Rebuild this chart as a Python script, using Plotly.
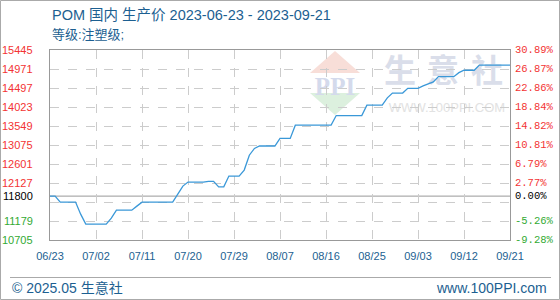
import pandas as pd
import plotly.graph_objects as go

# ---- data ----
start_date = "2023-06-23"
prices = [
    11800, 11800, 11650, 11650, 11650, 11650, 11350, 11100, 11100, 11100,
    11100, 11100, 11250, 11450, 11450, 11450, 11450, 11550, 11650, 11650,
    11650, 11650, 11650, 11650, 11650, 11850, 12050, 12150, 12150, 12150,
    12150, 12170, 12170, 12030, 12030, 12300, 12300, 12300, 12450, 12820,
    12990, 13050, 13050, 13050, 13050, 13240, 13240, 13240, 13570, 13570,
    13570, 13570, 13570, 13570, 13570, 13570, 13810, 13810, 13810, 13810,
    13810, 13810, 14070, 14070, 14070, 14070, 14250, 14370, 14370, 14370,
    14490, 14490, 14490, 14550, 14610, 14650, 14780, 14780, 14780, 14780,
    14880, 14940, 14940, 14940, 15070, 15070, 15070, 15070, 15070, 15070,
    15070,
]
base_price = 11800
y_ticks = [10705, 11179, 11653, 12127, 12601, 13075, 13549, 14023, 14497, 14971, 15445]
left_labels = ["10705", "11179", None, "12127", "12601", "13075", "13549", "14023", "14497", "14971", "15445"]
right_labels = ["-9.28%", "-5.26%", None, "2.77%", "6.79%", "10.81%", "14.82%", "18.84%", "22.86%", "26.87%", "30.89%"]
x_tick_dates = ["2023-06-23", "2023-07-02", "2023-07-11", "2023-07-20", "2023-07-29",
                "2023-08-07", "2023-08-16", "2023-08-25", "2023-09-03", "2023-09-12", "2023-09-21"]
x_tick_text = ["06/23", "07/02", "07/11", "07/20", "07/29", "08/07", "08/16", "08/25", "09/03", "09/12", "09/21"]

dates = pd.date_range(start_date, periods=len(prices), freq="D")

RED = "#f33333"
GREEN = "#33aa33"
BLUE_TXT = "#1c5f91"
GRID = "#cccccc"
AXIS = "#999999"

fig = go.Figure()
fig.add_trace(go.Scatter(x=dates, y=prices, mode="lines",
                         line=dict(color="#3a98d8", width=1.3), hoverinfo="skip"))

annotations = []
for v, ll, rl in zip(y_ticks, left_labels, right_labels):
    if ll is None:
        continue
    col = RED if v > base_price else GREEN
    annotations.append(dict(x=0, y=v, xref="paper", yref="y", text=ll, showarrow=False,
                            xanchor="right", yanchor="middle", xshift=-15,
                            font=dict(family="Liberation Sans", size=11, color=col)))
    annotations.append(dict(x=1, y=v, xref="paper", yref="y", text=rl, showarrow=False,
                            xanchor="left", yanchor="middle", xshift=3,
                            font=dict(family="Liberation Mono", size=10.5, color=col)))
annotations.append(dict(x=0, y=base_price, xref="paper", yref="y", text=str(base_price), showarrow=False,
                        xanchor="right", yanchor="middle", xshift=-15,
                        font=dict(family="Liberation Sans", size=11, color="#000000")))
annotations.append(dict(x=1, y=base_price, xref="paper", yref="y", text="0.00%", showarrow=False,
                        xanchor="left", yanchor="middle", xshift=3,
                        font=dict(family="Liberation Mono", size=10.5, color="#000000")))

# titles & footer
annotations += [
    dict(x=0, y=1, xref="paper", yref="paper", xanchor="left", yanchor="middle", yshift=35,
         text="POM 国内 生产价 2023-06-23 - 2023-09-21", showarrow=False,
         font=dict(family="Liberation Sans, Noto Sans CJK SC", size=14.5, color=BLUE_TXT)),
    dict(x=0, y=1, xref="paper", yref="paper", xanchor="left", yanchor="middle", yshift=16,
         text="等级:注塑级;", showarrow=False,
         font=dict(family="Liberation Sans, Noto Sans CJK SC", size=13, color=BLUE_TXT)),
    dict(x=0, y=0, xref="paper", yref="paper", xanchor="left", yanchor="middle", yshift=-48, xshift=-40,
         text="© 2025.05 生意社", showarrow=False,
         font=dict(family="Liberation Sans, Noto Sans CJK SC", size=14, color=BLUE_TXT)),
    dict(x=1, y=0, xref="paper", yref="paper", xanchor="right", yanchor="middle", yshift=-48, xshift=39,
         text="www.100PPI.com", showarrow=False,
         font=dict(family="Liberation Sans", size=14, color=BLUE_TXT)),
]

W, H, L, T, PW, PH = 560, 300, 50, 50, 460, 190
def px(x):
    return (x - L) / PW
def py(y):
    return (T + PH - y) / PH

shapes = [
    # baseline
    dict(type="line", xref="paper", yref="y", x0=0, x1=1, y0=base_price, y1=base_price,
         line=dict(color=AXIS, width=1), layer="between"),
    # footer separator
    dict(type="line", xref="paper", yref="paper", x0=px(10), x1=px(551), y0=py(277.5), y1=py(277.5),
         line=dict(color="#aaaaaa", width=1)),
    # outer border
    dict(type="rect", xref="paper", yref="paper", x0=px(0.5), x1=px(559.5), y0=py(299.5), y1=py(0.5),
         line=dict(color="#aaaaaa", width=1)),
    # watermark logo
    dict(type="path", xref="paper", yref="paper", layer="below",
         path=f"M {px(335)} {py(51)} L {px(310)} {py(73)} L {px(360)} {py(73)} Z",
         fillcolor="rgb(248,222,216)", line=dict(width=0)),
    dict(type="path", xref="paper", yref="paper", layer="below",
         path=f"M {px(310)} {py(93)} L {px(360)} {py(93)} L {px(335)} {py(115)} Z",
         fillcolor="rgb(220,240,222)", line=dict(width=0)),
    dict(type="rect", xref="paper", yref="paper", layer="below",
         x0=px(306), x1=px(364), y0=py(94), y1=py(72), line=dict(width=0),
         label=dict(text="<b>PPI</b>", font=dict(family="Liberation Serif", size=25, color="rgb(212,218,236)"))),
    dict(type="rect", xref="paper", yref="paper", layer="below",
         x0=px(380), x1=px(420), y0=py(90), y1=py(55), line=dict(width=0),
         label=dict(text="<b>生</b>", font=dict(family="Noto Sans CJK SC", size=32, color="rgb(218,222,234)"))),
    dict(type="rect", xref="paper", yref="paper", layer="below",
         x0=px(423), x1=px(463), y0=py(90), y1=py(55), line=dict(width=0),
         label=dict(text="<b>意</b>", font=dict(family="Noto Sans CJK SC", size=32, color="rgb(218,222,234)"))),
    dict(type="rect", xref="paper", yref="paper", layer="below",
         x0=px(467), x1=px(507), y0=py(90), y1=py(55), line=dict(width=0),
         label=dict(text="<b>社</b>", font=dict(family="Noto Sans CJK SC", size=32, color="rgb(218,222,234)"))),
    dict(type="rect", xref="paper", yref="paper", layer="below",
         x0=px(385), x1=px(509), y0=py(114), y1=py(98), line=dict(width=0),
         label=dict(text="WWW.100PPI.COM", font=dict(family="Liberation Sans", size=13, color="rgb(226,226,226)"))),
]

fig.update_layout(
    width=W, height=H, margin=dict(l=L, r=W - L - PW, t=T, b=H - T - PH),
    paper_bgcolor="white", plot_bgcolor="white", showlegend=False,
    annotations=annotations, shapes=shapes,
    xaxis=dict(range=[dates[0], dates[-1]], tickvals=pd.to_datetime(x_tick_dates), ticktext=x_tick_text,
               showgrid=True, gridcolor=GRID, griddash="dash", gridwidth=1,
               showline=True, linecolor=AXIS, linewidth=1, mirror=True, ticks="", ticklabelstandoff=6,
               tickfont=dict(family="Liberation Sans", size=11, color=BLUE_TXT), zeroline=False),
    yaxis=dict(range=[y_ticks[0], y_ticks[-1]], tickvals=y_ticks, showticklabels=False,
               showgrid=True, gridcolor=GRID, griddash="dash", gridwidth=1,
               showline=True, linecolor=AXIS, linewidth=1, mirror=True, ticks="", zeroline=False),
)

fig.write_html("out.html")
